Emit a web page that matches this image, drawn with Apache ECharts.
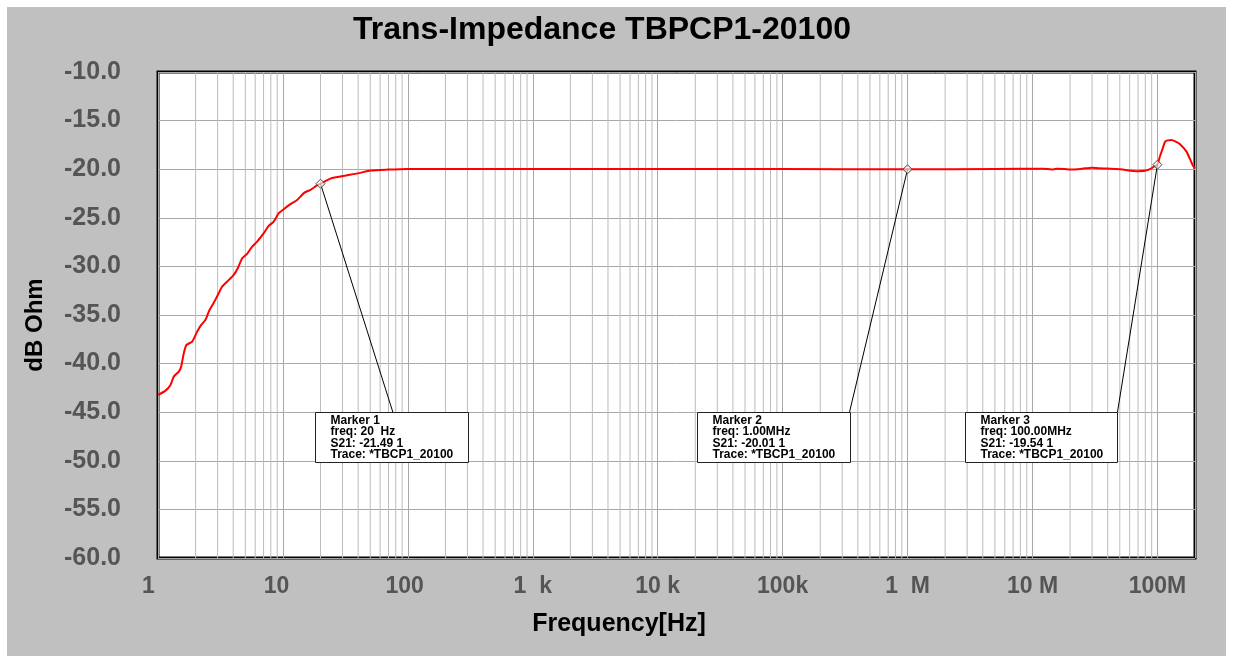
<!DOCTYPE html>
<html>
<head>
<meta charset="utf-8">
<script src="https://cdn.jsdelivr.net/npm/echarts@6/dist/echarts.min.js"></script>
<style>
  html, body { margin: 0; padding: 0; background: #fff; }
  #chart { position: absolute; left: 7px; top: 7px; width: 1219px; height: 649px; }
</style>
</head>
<body>
<div id="chart"></div>
<script>
// trace S21
const freqHz = [
  1, 1.148, 1.259, 1.338, 1.467, 1.533, 1.609, 1.69, 1.878, 2.06,
  2.19, 2.40, 2.55, 2.80, 3.06, 3.26, 3.69, 4.04, 4.35, 4.72,
  5.17, 5.67, 6.22, 7.02, 7.70, 8.44, 9.26, 10.15, 11.48, 12.99,
  14.86, 16.6, 18.95, 20, 24.2, 30.9, 39.6, 50.6, 68.8, 99.4,
  200, 1e3, 1e4, 1e5, 1e6, 5e6, 1.2e7, 1.43e7, 1.55e7, 1.8e7,
  2.0e7, 2.15e7, 2.5e7, 2.98e7, 3.4e7, 3.92e7, 4.6e7, 5.3e7, 5.84e7, 6.82e7,
  7.94e7, 8.71e7, 9.55e7, 1e8, 1.047e8, 1.1e8, 1.16e8, 1.3e8, 1.4e8, 1.51e8,
  1.71e8, 1.93e8, 2e8
];
const s21Db = [
  -43.22, -42.78, -42.19, -41.34, -40.82, -40.31, -38.93, -38.08, -37.74, -36.71,
  -36.12, -35.5, -34.65, -33.72, -32.76, -32.08, -31.39, -30.87, -30.19, -29.16,
  -28.71, -27.96, -27.45, -26.58, -25.83, -25.39, -24.53, -24.12, -23.6, -23.16,
  -22.41, -22.13, -21.62, -21.49, -20.94, -20.67, -20.43, -20.14, -20.04, -19.97,
  -19.97, -19.98, -19.98, -19.99, -20.01, -19.97, -19.95, -20.03, -19.96, -19.97,
  -20.03, -20.02, -19.95, -19.84, -19.9, -19.93, -19.97, -20.03, -20.13, -20.2,
  -20.17, -20.0, -19.66, -19.54, -18.7, -17.9, -17.13, -16.99, -17.16, -17.4,
  -18.19, -19.66, -19.9
];

// decade tick labels (fixed 4-char, as the analyzer prints them)
const decadeLabels = {
  1: '1   ', 10: '10  ', 100: '100 ', 1e3: '1  k', 1e4: '10 k',
  1e5: '100k', 1e6: '1  M', 1e7: '10 M', 1e8: '100M'
};

// markers
const markerFreq = [20, 1e6, 1e8];
const markerDb = [-21.49, -20.01, -19.54];
const markerText = [
  ['Marker 1', 'freq: 20  Hz', 'S21: -21.49 1', 'Trace: *TBCP1_20100'],
  ['Marker 2', 'freq: 1.00MHz', 'S21: -20.01 1', 'Trace: *TBCP1_20100'],
  ['Marker 3', 'freq: 100.00MHz', 'S21: -19.54 1', 'Trace: *TBCP1_20100']
];
// where each marker's readout box sits (box left / right / leader end, in Hz; top at -45 dB)
const boxLeftHz = [18.0, 2.05e4, 2.91e6];
const boxRightHz = [302, 3.43e5, 4.79e7];
const leaderEndHz = [75.9, 3.43e5, 4.79e7];
const boxTopDb = -45;

// minor log grid lines 2..9 x 10^k
const minorHz = [];
for (let k = 0; k <= 8; k++) {
  for (let m = 2; m <= 9; m++) {
    const f = m * Math.pow(10, k);
    if (f < 2e8) minorHz.push([f]);
  }
}

const FONT = 'Liberation Sans, Arial, sans-serif';
const chart = echarts.init(document.getElementById('chart'));

chart.setOption({
  backgroundColor: '#c0c0c0',
  animation: false,
  title: {
    text: 'Trans-Impedance TBPCP1-20100',
    left: 590, top: 2, textAlign: 'center',
    textStyle: { fontFamily: FONT, fontSize: 32, fontWeight: 'bold', color: '#000' }
  },
  graphic: [
    {
      type: 'text', x: 28, y: 318, rotation: Math.PI / 2,
      style: { text: 'dB Ohm', fontFamily: FONT, fontSize: 24, fontWeight: 'bold',
               fill: '#000', align: 'center', verticalAlign: 'middle' }
    },
    {
      type: 'text', x: 612, y: 617,
      style: { text: 'Frequency[Hz]', fontFamily: FONT, fontSize: 25, fontWeight: 'bold',
               fill: '#000', align: 'center', verticalAlign: 'middle' }
    }
  ],
  grid: {
    left: 151, top: 65, width: 1037, height: 486,
    show: true, backgroundColor: '#fff', borderColor: '#000', borderWidth: 3,
    outerBoundsMode: 'none', containLabel: false
  },
  xAxis: {
    type: 'log', logBase: 10, min: 1, max: 2e8, splitNumber: 10,
    axisLine: { show: false }, axisTick: { show: false },
    splitLine: { show: true, lineStyle: { color: '#a8a8a8', width: 1 } },
    axisLabel: {
      margin: 17, fontFamily: FONT, fontSize: 23, fontWeight: 'bold', color: '#555',
      showMinLabel: true, showMaxLabel: true, hideOverlap: false,
      formatter: v => {
        const key = Math.round(v);
        return decadeLabels[key] !== undefined && Math.abs(v - key) < 1e-6 * key ? decadeLabels[key] : '';
      }
    }
  },
  yAxis: {
    type: 'value', min: -60, max: -10, interval: 5,
    axisLine: { show: false }, axisTick: { show: false },
    splitLine: { show: true, lineStyle: { color: '#a8a8a8', width: 1 } },
    axisLabel: {
      margin: 37, fontFamily: FONT, fontSize: 25, fontWeight: 'bold', color: '#555',
      padding: [4, 0, 0, 0],
      showMinLabel: true, showMaxLabel: true,
      formatter: v => v.toFixed(1)
    }
  },
  series: [
    {
      type: 'custom', z: 1, silent: true,
      data: minorHz,
      encode: { x: 0 },
      renderItem: (params, api) => {
        const f = api.value(0);
        const a = api.coord([f, -10]);
        const b = api.coord([f, -60]);
        return {
          type: 'line',
          shape: { x1: a[0], y1: a[1], x2: b[0], y2: b[1] },
          style: { stroke: '#bcbcbc', lineWidth: 1 }
        };
      }
    },
    {
      type: 'line', z: 3, silent: true,
      data: freqHz.map((f, i) => [f, s21Db[i]]),
      showSymbol: false, smooth: 0.2,
      lineStyle: { color: '#ff0000', width: 2 }
    },
    {
      type: 'custom', z: 4, silent: true,
      data: markerFreq.map((f, i) => [f, markerDb[i]]),
      encode: { x: 0, y: 1 },
      renderItem: (params, api) => {
        const i = params.dataIndex;
        const p = api.coord([api.value(0), api.value(1)]);
        const tl = api.coord([boxLeftHz[i], boxTopDb]);
        const tr = api.coord([boxRightHz[i], boxTopDb]);
        const le = api.coord([leaderEndHz[i], boxTopDb]);
        const bx = Math.round(tl[0]) + 0.5;
        const by = Math.round(tl[1]) + 0.5;
        const bw = Math.round(tr[0] - tl[0]);
        const d = 4.5;
        return {
          type: 'group',
          children: [
            {
              type: 'line',
              shape: { x1: p[0], y1: p[1], x2: le[0], y2: le[1] },
              style: { stroke: '#000', lineWidth: 1 }
            },
            {
              type: 'rect',
              shape: { x: bx, y: by, width: bw, height: 50 },
              style: { fill: '#fff', stroke: '#222', lineWidth: 1 }
            },
            {
              type: 'text', x: bx + 15, y: by + 2.5,
              style: {
                text: markerText[i].join('\n'),
                fontFamily: FONT, fontSize: 12, fontWeight: 'bold', lineHeight: 11.3, fill: '#000',
                align: 'left', verticalAlign: 'top'
              }
            },
            {
              type: 'polygon',
              shape: { points: [[p[0], p[1] - d], [p[0] + d, p[1]], [p[0], p[1] + d], [p[0] - d, p[1]]] },
              style: { fill: 'rgba(255,255,255,0.6)', stroke: '#444', lineWidth: 1 }
            }
          ]
        };
      }
    }
  ]
});
</script>
</body>
</html>
